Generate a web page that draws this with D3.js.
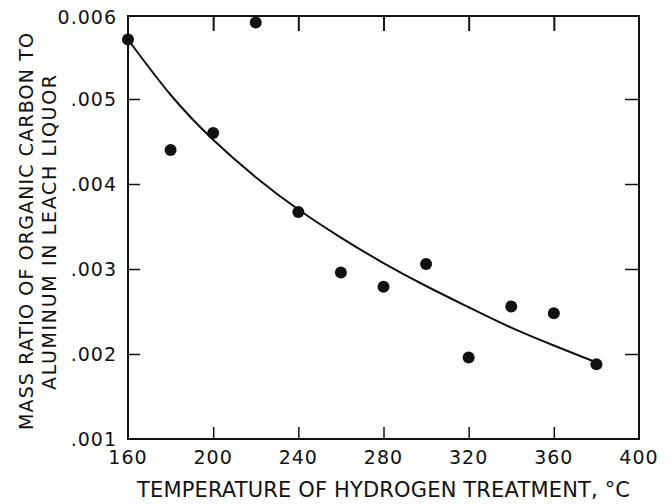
<!DOCTYPE html>
<html>
<head>
<meta charset="utf-8">
<script src="https://cdn.jsdelivr.net/npm/d3@7"></script>
<style>
  body { margin: 0; background: #fff; }
  text { font-family: "DejaVu Sans", sans-serif; fill: #111; }
</style>
</head>
<body>
<script>
const width = 672
const height = 504

// measured points
const temps = [160, 180, 200, 220, 240, 260, 280, 300, 320, 340, 360, 380]
const ratios = [0.0057, 0.0044, 0.0046, 0.0059, 0.00367, 0.00296, 0.00279, 0.00306, 0.00196, 0.00256, 0.00248, 0.00188]

// fitted curve
const curveTemps = [160, 180, 200, 220, 240, 260, 280, 300, 320, 340, 360, 378]
const curveRatios = [0.0057, 0.00505, 0.00452, 0.00408, 0.0037, 0.00337, 0.00307, 0.0028, 0.00255, 0.00231, 0.0021, 0.00192]

const xTicks = [160, 200, 240, 280, 320, 360, 400]
const yTicks = [0.001, 0.002, 0.003, 0.004, 0.005, 0.006]
const yTickLabels = ['.001', '.002', '.003', '.004', '.005', '0.006']

const x = d3.scaleLinear().domain([160, 400]).range([128, 639])
const y = d3.scaleLinear().domain([0.001, 0.006]).range([439, 14])

const svg = d3.select('body')
    .append('svg')
    .attr('width', width)
    .attr('height', height)

// frame
svg.append('rect')
    .attr('x', x(160))
    .attr('y', 16)
    .attr('width', x(400) - x(160))
    .attr('height', y(0.001) - 16)
    .attr('fill', 'none')
    .attr('stroke', '#111')
    .attr('stroke-width', 2)

const innerX = xTicks.filter(t => t > 160 && t < 400)
const innerY = yTicks.filter(t => t > 0.001 && t < 0.006)

// bottom axis with ticks pointing in
svg.append('g')
    .attr('transform', `translate(0,${y(0.001)})`)
    .call(d3.axisBottom(x).tickValues(innerX).tickSize(-12).tickFormat(''))
    .call(g => g.select('.domain').remove())
    .call(g => g.selectAll('line').attr('stroke', '#111').attr('stroke-width', 1.5))

svg.append('g')
    .selectAll('text')
    .data(xTicks)
    .join('text')
    .attr('x', d => x(d))
    .attr('y', 464)
    .attr('text-anchor', 'middle')
    .attr('font-size', 19)
    .attr('letter-spacing', 1)
    .text(d => d)

// top ticks
svg.append('g')
    .attr('transform', 'translate(0,16)')
    .call(d3.axisTop(x).tickValues(innerX).tickSize(-15).tickFormat(''))
    .call(g => g.select('.domain').remove())
    .call(g => g.selectAll('line').attr('stroke', '#111').attr('stroke-width', 2))

// left axis
svg.append('g')
    .attr('transform', `translate(${x(160)},0)`)
    .call(d3.axisLeft(y).tickValues(innerY).tickSize(-12).tickFormat(''))
    .call(g => g.select('.domain').remove())
    .call(g => g.selectAll('line').attr('stroke', '#111').attr('stroke-width', 1.5))

svg.append('g')
    .selectAll('text')
    .data(yTicks)
    .join('text')
    .attr('x', 117)
    .attr('y', (d, i) => i === yTicks.length - 1 ? 24 : y(d) + 7)
    .attr('text-anchor', 'end')
    .attr('font-size', 19)
    .attr('letter-spacing', 1)
    .text((d, i) => yTickLabels[i])

// right ticks
svg.append('g')
    .attr('transform', `translate(${x(400)},0)`)
    .call(d3.axisRight(y).tickValues(innerY).tickSize(-14).tickFormat(''))
    .call(g => g.select('.domain').remove())
    .call(g => g.selectAll('line').attr('stroke', '#111').attr('stroke-width', 1.5))

// fitted curve
const line = d3.line()
    .x(d => x(d[0]))
    .y(d => y(d[1]))
    .curve(d3.curveNatural)

svg.append('path')
    .datum(curveTemps.map((t, i) => [t, curveRatios[i]]))
    .attr('d', line)
    .attr('fill', 'none')
    .attr('stroke', '#111')
    .attr('stroke-width', 2)

// points
svg.append('g')
    .selectAll('circle')
    .data(temps)
    .join('circle')
    .attr('cx', d => x(d))
    .attr('cy', (d, i) => y(ratios[i]))
    .attr('r', 6)
    .attr('fill', '#111')

// axis titles
svg.append('text')
    .attr('x', 137)
    .attr('y', 497)
    .attr('font-size', 21)
    .attr('textLength', 493)
    .attr('lengthAdjust', 'spacing')
    .text('TEMPERATURE OF HYDROGEN TREATMENT, °C')

svg.append('text')
    .attr('transform', 'translate(33,430) rotate(-90)')
    .attr('font-size', 19)
    .attr('textLength', 397)
    .attr('lengthAdjust', 'spacing')
    .text('MASS RATIO OF ORGANIC CARBON TO')

svg.append('text')
    .attr('transform', 'translate(56,390) rotate(-90)')
    .attr('font-size', 19)
    .attr('textLength', 315)
    .attr('lengthAdjust', 'spacing')
    .text('ALUMINUM IN LEACH LIQUOR')
</script>
</body>
</html>
